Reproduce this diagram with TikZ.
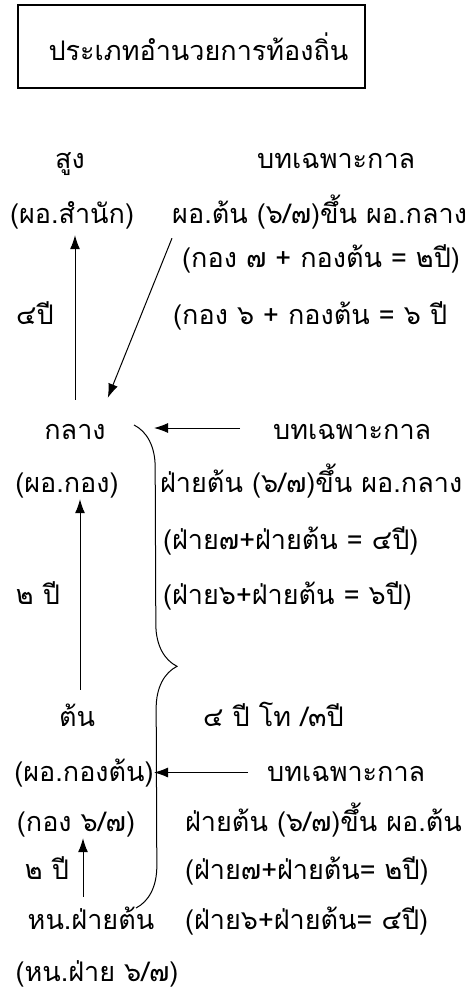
\documentclass[tikz,border=0pt]{standalone}
\usepackage{fontspec}
\newfontfamily\thaifont[Script=Thai]{Loma}
\usetikzlibrary{arrows.meta, positioning, decorations.pathreplacing}

\begin{document}
\begin{tikzpicture}[
  x=1pt, y=-1pt, >={Latex[length=14pt,width=10pt]},
  lbl/.style={
    font=\thaifont\fontsize{27}{32}\selectfont, inner sep=0pt,
    text height=22pt, text depth=7pt, anchor=base
  },
  lblw/.style={lbl, anchor=base west},
  titlebox/.style={
    draw, line width=1.3pt, inner sep=0pt,
    minimum width=347pt, minimum height=83pt,
    font=\thaifont\fontsize{27}{32}\selectfont
  },
  myarrow/.style={->, line width=1pt},
  bracket/.style={line width=1pt, decorate, decoration={brace, amplitude=42pt}},
]
\useasboundingbox (0,0) rectangle (472,992);
% --- Title ---
\node[titlebox] (title) at (191.5,46.5) {\hspace*{14pt}ประเภทอำนวยการท้องถิ่น};
% --- Left column: levels ---
\node[lbl] (sung)    at (70,169)  {สูง};
\node[lbl] (samnak)  at (72,224)  {(ผอ.สำนัก)};
\node[lbl] (yr4)     at (35,324)  {๔ปี};
\node[lbl] (klang)   at (75,439)  {กลาง};
\node[lbl] (kong)    at (67,492)  {(ผอ.กอง)};
\node[lbl] (yr2a)    at (38,604)  {๒ ปี};
\node[lbl] (ton)     at (77,726)  {ต้น};
\node[lbl] (kongton) at (84,781)  {(ผอ.กองต้น)};
\node[lbl] (kong67)  at (76,831)  {(กอง ๖/๗)};
\node[lbl] (yr2b)    at (47,879)  {๒ ปี};
\node[lbl] (hnfai)   at (91,929)  {หน.ฝ่ายต้น};
\node[lbl] (hnfai67) at (97,981)  {(หน.ฝ่าย ๖/๗)};
% --- Right column: transitional rules ---
\node[lblw] (bt1)  at (257,169) {บทเฉพาะกาล};
\node[lblw] (top2) at (172,224) {ผอ.ต้น (๖/๗)ขึ้น ผอ.กลาง};
\node[lblw] (top3) at (182,267) {(กอง ๗ + กองต้น = ๒ปี)};
\node[lblw] (top4) at (173,324) {(กอง ๖ + กองต้น = ๖ ปี};
\node[lblw] (bt2)  at (273,439) {บทเฉพาะกาล};
\node[lblw] (mid2) at (160,492) {ฝ่ายต้น (๖/๗)ขึ้น ผอ.กลาง};
\node[lblw] (mid3) at (163,549) {(ฝ่าย๗+ฝ่ายต้น = ๔ปี)};
\node[lblw] (mid4) at (163,604) {(ฝ่าย๖+ฝ่ายต้น = ๖ปี)};
\node[lblw] (tho)  at (203,726) {๔ ปี โท /๓ปี};
\node[lblw] (bt3)  at (267,781) {บทเฉพาะกาล};
\node[lblw] (low2) at (185,831) {ฝ่ายต้น (๖/๗)ขึ้น ผอ.ต้น};
\node[lblw] (low3) at (185,879) {(ฝ่าย๗+ฝ่ายต้น= ๒ปี)};
\node[lblw] (low4) at (185,929) {(ฝ่าย๖+ฝ่ายต้น= ๔ปี)};
% --- Brace ---
\coordinate (brtop) at (134,425);
\coordinate (brbot) at (136,908);
\coordinate (spine) at (154,668);
\draw[bracket] (brtop) -- (brbot);
% --- Arrows ---
\draw[myarrow, shorten <=17pt, shorten >=4pt] (klang.north) -- (klang.north |- samnak.south);
\draw[myarrow, shorten <=14pt] ([xshift=3pt]ton.north) -- ([xshift=3pt]ton.north |- kong.south);
\draw[myarrow, shorten <=10pt] ([xshift=-8pt]hnfai.north) -- ([xshift=-8pt]hnfai.north |- kong67.south);
\draw[myarrow] ([yshift=-7pt]top2.south west) -- ([xshift=2pt,yshift=19pt]klang.north east);
\draw[myarrow, shorten <=33pt] ([yshift=3.5pt]bt2.west) -- ([yshift=3.5pt]bt2.west -| spine);
\draw[myarrow, shorten <=19pt] ([yshift=1pt]bt3.west) -- ([yshift=1pt]bt3.west -| spine);
\end{tikzpicture}
\end{document}
